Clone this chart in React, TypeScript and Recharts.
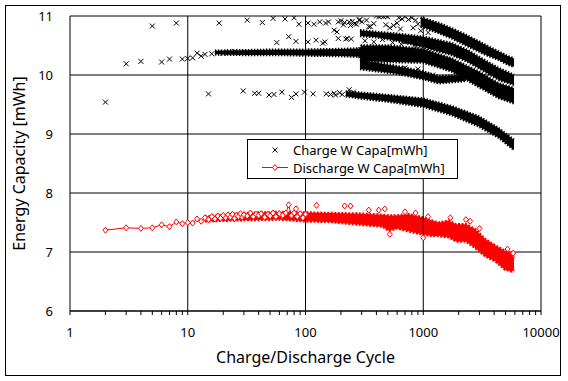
import {
  ComposedChart,
  XAxis,
  YAxis,
  CartesianGrid,
  ReferenceLine,
  Area,
  Line,
  Scatter,
  Legend,
} from 'recharts'

const FONT = '"Noto Sans", "Open Sans", sans-serif'

// ─── axes ────────────────────────────────────────────────

const X_TICKS = [
  1, 2, 3, 4, 5, 6, 7, 8, 9,
  10, 20, 30, 40, 50, 60, 70, 80, 90,
  100, 200, 300, 400, 500, 600, 700, 800, 900,
  1000, 2000, 3000, 4000, 5000, 6000, 7000, 8000, 9000,
  10000,
]
const X_LABELS = [1, 10, 100, 1000, 10000]
const X_GRID = [10, 100, 1000, 10000]
const Y_TICKS = [6, 7, 8, 9, 10, 11]

// ─── Charge W Capa: dense bands [cycle, low, high] ─────────

const CHG_TOP: [number, number, number][] = [
  [950, 10.82, 10.97], [1100, 10.78, 10.94], [1400, 10.70, 10.87], [1750, 10.62, 10.79],
  [2200, 10.52, 10.70], [2950, 10.40, 10.57], [3600, 10.32, 10.48], [4350, 10.26, 10.40],
  [5200, 10.18, 10.32], [5900, 10.14, 10.28],
]
const CHG_UPPER: [number, number, number][] = [
  [290, 10.66, 10.76], [400, 10.64, 10.73], [600, 10.58, 10.70], [1000, 10.47, 10.65],
  [1750, 10.34, 10.54], [2400, 10.22, 10.42], [2950, 10.12, 10.31], [4350, 9.92, 10.12],
  [5900, 9.83, 10.0],
]
const CHG_MAIN: [number, number, number][] = [
  [17, 10.35, 10.41], [30, 10.34, 10.42], [60, 10.34, 10.43], [100, 10.33, 10.43],
  [200, 10.32, 10.44], [285, 10.31, 10.45], [300, 10.24, 10.50], [500, 10.22, 10.50],
  [1000, 10.21, 10.44], [1750, 10.06, 10.28], [2950, 9.80, 10.06], [4350, 9.61, 9.86],
  [5900, 9.52, 9.78],
]
const CHG_MID: [number, number, number][] = [
  [290, 10.10, 10.26], [600, 10.02, 10.15], [1000, 9.93, 10.06], [1350, 9.86, 9.98],
  [1800, 9.88, 9.99], [2300, 9.90, 9.98],
]
const CHG_LOW: [number, number, number][] = [
  [220, 9.64, 9.72], [300, 9.60, 9.70], [500, 9.55, 9.66], [1000, 9.46, 9.60],
  [1750, 9.32, 9.47], [2950, 9.13, 9.30], [4350, 8.94, 9.10], [5900, 8.73, 8.90],
]

// ─── Charge W Capa: scattered points ─────────────────────

const CHG_CYCLES = [
  2, 3, 4, 5, 6, 7, 8, 9, 10, 11, 12, 13, 14, 15, 16, 18.5, 20, 22, 25, 29.6,
  32, 37, 40, 43, 49, 53, 54, 57, 63, 67, 72, 76, 80, 83, 83, 88, 98, 105, 105, 116,
  118, 123, 132, 140, 146, 148, 150, 157, 163, 175, 175, 185, 190, 190, 200, 210, 215, 220, 226, 235,
  235, 241, 245, 250, 260, 270, 285, 290, 300, 330, 345, 355, 400, 420, 440, 460, 480, 500, 520, 560,
  620, 640, 660, 700, 750, 800, 860, 900, 1100, 180, 195, 205, 230, 255, 265,
  320, 380, 450, 550, 650, 700, 850, 380, 480, 600, 820, 950, 400, 700, 900, 1200,
]
const CHG_VALUES = [
  9.54, 10.19, 10.23, 10.83, 10.22, 10.27, 10.88, 10.27, 10.28, 10.29, 10.37, 10.32, 10.35, 9.68, 10.36, 10.88, 10.37, 10.38, 10.40, 9.73,
  10.93, 9.69, 9.69, 10.89, 9.66, 10.96, 9.67, 10.55, 9.71, 10.95, 10.65, 9.62, 10.97, 10.57, 9.68, 10.86, 9.71, 10.88, 10.56, 9.68,
  10.86, 10.59, 10.9, 10.54, 10.56, 10.88, 9.68, 10.9, 9.67, 10.76, 9.69, 10.73, 10.9, 10.62, 10.92, 10.85, 10.89, 10.61, 10.62, 10.9,
  9.75, 10.84, 10.61, 10.91, 10.87, 10.86, 10.93, 10.94, 10.9, 10.93, 10.82, 10.82, 11.0, 10.99, 11.0, 10.99, 11.0, 10.99, 10.8, 10.84,
  10.97, 10.78, 10.95, 10.99, 10.94, 10.97, 10.93, 10.86, 10.72, 9.66, 9.70, 9.67, 9.69, 9.71, 9.66,
  10.58, 10.56, 10.60, 10.55, 10.52, 10.56, 10.50, 10.87, 10.85, 10.88, 10.80, 10.75, 10.20, 10.12, 10.10, 10.00,
]

// ─── Discharge W Capa ───────────────────────────────────

const DIS_CYCLES = [
  2, 3, 4, 5, 6, 7, 8, 9, 10, 11, 12, 13, 14, 15, 16, 17, 18, 19, 20, 21,
  22, 23, 24, 25, 26, 27, 28, 29, 30, 32, 34, 36, 38, 40, 42, 45, 48, 50, 53, 56,
  60, 64, 68, 72, 76, 80, 85, 90, 95, 100,
]
const DIS_VALUES = [
  7.37, 7.41, 7.40, 7.41, 7.46, 7.43, 7.51, 7.48, 7.50, 7.49, 7.56, 7.52, 7.58, 7.55, 7.60, 7.56, 7.61, 7.57, 7.62, 7.58,
  7.63, 7.59, 7.64, 7.57, 7.62, 7.60, 7.65, 7.59, 7.63, 7.61, 7.66, 7.60, 7.64, 7.62, 7.65, 7.59, 7.64, 7.61, 7.66, 7.60,
  7.65, 7.62, 7.66, 7.80, 7.62, 7.66, 7.60, 7.65, 7.58, 7.64,
]
const DIS_BAND: [number, number, number][] = [
  [14, 7.52, 7.60], [20, 7.53, 7.63], [30, 7.54, 7.66], [60, 7.55, 7.68], [100, 7.52, 7.67],
  [160, 7.51, 7.66], [300, 7.46, 7.65], [450, 7.43, 7.63], [510, 7.36, 7.62], [600, 7.40, 7.62],
  [750, 7.35, 7.64], [975, 7.30, 7.59], [1200, 7.27, 7.53], [1350, 7.27, 7.50], [1650, 7.25, 7.53],
  [1900, 7.18, 7.47], [2300, 7.18, 7.47], [2750, 7.07, 7.39], [3350, 6.93, 7.22], [4100, 6.84, 7.11],
  [4950, 6.70, 7.02], [5650, 6.67, 6.97], [5900, 6.70, 6.90],
]
const DIS_OUT_CYCLES = [83, 124, 215, 241, 345, 419, 471, 520, 700, 860, 1000, 1100, 1700, 2300, 2500, 3000, 5200, 5800]
const DIS_OUT_VALUES = [7.73, 7.79, 7.78, 7.78, 7.71, 7.71, 7.73, 7.30, 7.68, 7.66, 7.24, 7.60, 7.58, 7.55, 7.52, 7.40, 7.05, 6.98]

const band = (rows: [number, number, number][]) => rows.map(([c, lo, hi]) => ({ c, r: [lo, hi] }))
const pts = (cs: number[], vs: number[]) => cs.map((c, i) => ({ c, v: vs[i] }))

const chargePts = pts(CHG_CYCLES, CHG_VALUES)
const dischargeLine = pts(DIS_CYCLES, DIS_VALUES)
const dischargeOut = pts(DIS_OUT_CYCLES, DIS_OUT_VALUES)
const chargeBands = [CHG_TOP, CHG_UPPER, CHG_MAIN, CHG_MID, CHG_LOW].map(band)

// ─── markers ─────────────────────────────────────────────

function XMark({ cx, cy }: { cx?: number; cy?: number }) {
  if (cx == null || cy == null) return null
  return (
    <path
      d={`M${cx - 2.5},${cy - 2.5}L${cx + 2.5},${cy + 2.5}M${cx - 2.5},${cy + 2.5}L${cx + 2.5},${cy - 2.5}`}
      stroke="#000"
      strokeWidth={1}
    />
  )
}

function Diamond({ cx, cy }: { cx?: number; cy?: number }) {
  if (cx == null || cy == null) return null
  return (
    <path
      d={`M${cx},${cy - 3}L${cx + 2.5},${cy}L${cx},${cy + 3}L${cx - 2.5},${cy}Z`}
      fill="#fff"
      stroke="#ff0000"
      strokeWidth={1}
    />
  )
}

function LegendBox() {
  return (
    <svg width={211} height={40} style={{ display: 'block' }}>
      <rect x={0.5} y={0.5} width={210} height={39} fill="#fff" stroke="#000" />
      <XMark cx={28} cy={11} />
      <line x1={15} x2={41} y1={28.5} y2={28.5} stroke="#ff0000" />
      <Diamond cx={28} cy={28.5} />
      <text x={46} y={11} dominantBaseline="central" fontSize={13} fontFamily={FONT} fill="#000">
        Charge W Capa[mWh]
      </text>
      <text x={46} y={28.5} dominantBaseline="central" fontSize={13} fontFamily={FONT} fill="#000">
        Discharge W Capa[mWh]
      </text>
    </svg>
  )
}

export default function App() {
  return (
    <div style={{ position: 'absolute', left: 0, top: 0, width: 568, height: 381, background: '#fff' }}>
      <div
        style={{
          position: 'absolute',
          left: 5,
          top: 5,
          width: 556,
          height: 371,
          boxSizing: 'border-box',
          border: '1px solid #000',
        }}
      />
      <ComposedChart
        width={568}
        height={381}
        margin={{ top: 16, right: 27, bottom: 0, left: 0 }}
        style={{ fontFamily: FONT }}
      >
        <CartesianGrid vertical={false} stroke="#000" strokeOpacity={1} />
        {X_GRID.map((d) => (
          <ReferenceLine key={d} x={d} stroke="#000" strokeWidth={1} />
        ))}
        <XAxis
          type="number"
          dataKey="c"
          scale="log"
          domain={[1, 10000]}
          allowDataOverflow
          ticks={X_TICKS}
          interval={0}
          tickFormatter={(v) => (X_LABELS.includes(v) ? String(v) : '')}
          height={70}
          tickSize={4}
          tickMargin={13}
          tick={{ fill: '#000', fontSize: 13, fontFamily: FONT }}
          axisLine={{ stroke: '#000' }}
          tickLine={{ stroke: '#000' }}
          label={(p: any) => (
            <text
              x={p.viewBox.x + p.viewBox.width / 2}
              y={p.viewBox.y + 46}
              textAnchor="middle"
              dominantBaseline="central"
              fontSize={16}
              fontFamily={FONT}
              fill="#000"
            >
              Charge/Discharge Cycle
            </text>
          )}
        />
        <YAxis
          type="number"
          domain={[6, 11]}
          allowDataOverflow
          ticks={Y_TICKS}
          interval={0}
          width={70}
          tickLine={false}
          tickSize={0}
          tickMargin={17}
          tick={{ fill: '#000', fontSize: 13, fontFamily: FONT }}
          axisLine={{ stroke: '#000' }}
          label={(p: any) => {
            const x = p.viewBox.x + 19
            const y = p.viewBox.y + p.viewBox.height / 2
            return (
              <text
                x={x}
                y={y}
                transform={`rotate(-90 ${x} ${y})`}
                textAnchor="middle"
                dominantBaseline="central"
                fontSize={16}
                fontFamily={FONT}
                fill="#000"
              >
                Energy Capacity [mWh]
              </text>
            )
          }}
        />
        {chargeBands.map((d, i) => (
          <Area
            key={i}
            data={d}
            dataKey="r"
            type="linear"
            fill="#000"
            fillOpacity={1}
            stroke="#000"
            strokeWidth={2.5}
            strokeDasharray="1.5 1.5"
            isAnimationActive={false}
            activeDot={false}
            legendType="none"
          />
        ))}
        <Scatter
          data={chargePts}
          dataKey="v"
          shape={(p: any) => <XMark cx={p.cx} cy={p.cy} />}
          isAnimationActive={false}
        />
        <Area
          data={band(DIS_BAND)}
          dataKey="r"
          type="linear"
          fill="#ff0000"
          fillOpacity={1}
          stroke="#ff0000"
          strokeWidth={2.5}
          strokeDasharray="2 1.5"
          isAnimationActive={false}
          activeDot={false}
        />
        <Line
          data={dischargeLine}
          dataKey="v"
          stroke="#ff0000"
          strokeWidth={1}
          dot={(p: any) => <Diamond key={p.index} cx={p.cx} cy={p.cy} />}
          activeDot={false}
          isAnimationActive={false}
        />
        <Scatter
          data={dischargeOut}
          dataKey="v"
          shape={(p: any) => <Diamond cx={p.cx} cy={p.cy} />}
          isAnimationActive={false}
        />
        <Legend
          layout="vertical"
          align="center"
          verticalAlign="middle"
          content={() => <LegendBox />}
          wrapperStyle={{ left: 247, top: 139, width: 211, height: 40 }}
        />
      </ComposedChart>
    </div>
  )
}
